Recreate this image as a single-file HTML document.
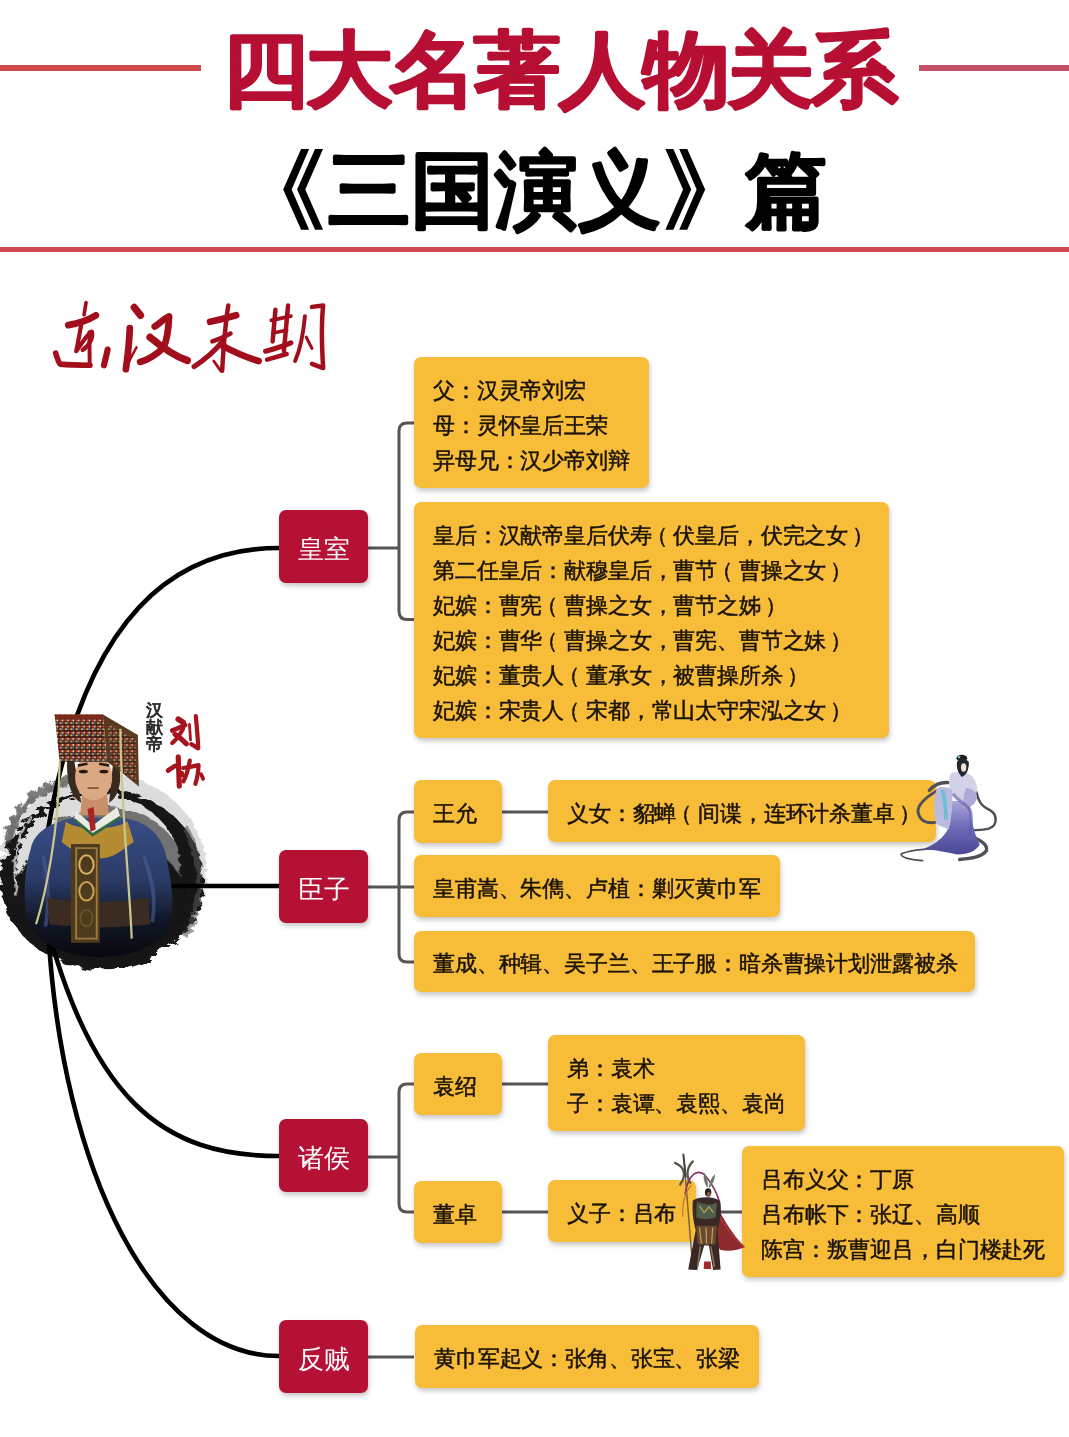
<!DOCTYPE html>
<html><head><meta charset="utf-8">
<style>
html,body{margin:0;padding:0;background:#fff;}
body{width:1069px;height:1437px;position:relative;overflow:hidden;font-family:"Liberation Sans",sans-serif;}
.a{position:absolute;}
.line{position:absolute;}
.tc{position:absolute;width:100px;text-align:center;font-size:82px;line-height:100px;font-weight:700;white-space:nowrap;transform:scaleX(1.06);}
.tr{color:#b70f33;-webkit-text-stroke:2.4px #b70f33;top:20px;}
.tb{color:#000;-webkit-text-stroke:2px #000;top:140px;transform:none;font-size:83px;}
.y{position:absolute;background:#f7bd38;border-radius:7px;box-shadow:1px 3px 5px rgba(0,0,0,.22);color:#1a1208;font-size:22px;letter-spacing:-0.15px;-webkit-text-stroke:0.5px #1a1208;line-height:35px;white-space:nowrap;box-sizing:border-box;padding-left:19px;}
.lp{position:relative;left:-6px}.rp{position:relative;left:4px}
.y1{display:flex;align-items:center;padding-top:4px;}
.r{position:absolute;left:279px;width:89px;height:73px;background:#b51135;border-radius:7px;box-shadow:1px 3px 5px rgba(0,0,0,.22);color:#fff;font-size:26px;display:flex;align-items:center;justify-content:center;white-space:nowrap;padding-top:5px;box-sizing:border-box;}
</style></head>
<body>
<!-- title lines -->
<div class="line" style="left:0;top:65px;width:201px;height:6px;background:#d04a4c"></div>
<div class="line" style="left:919px;top:65px;width:150px;height:6px;background:#c45068"></div>
<div class="line" style="left:0;top:247px;width:1069px;height:5px;background:#cf484b"></div>
<svg class="a" style="left:0;top:0;font-family:'Liberation Sans',sans-serif" width="1069" height="260" viewBox="0 0 1069 260">
<text x="0" y="0" transform="translate(265.0,98) scale(1.06,1)" text-anchor="middle" font-size="82" font-weight="700" fill="#b70f33" stroke="#b70f33" stroke-width="2.4" stroke-linejoin="round">四</text>
<text x="0" y="0" transform="translate(349.2,98) scale(1.06,1)" text-anchor="middle" font-size="82" font-weight="700" fill="#b70f33" stroke="#b70f33" stroke-width="2.4" stroke-linejoin="round">大</text>
<text x="0" y="0" transform="translate(433.4,98) scale(1.06,1)" text-anchor="middle" font-size="82" font-weight="700" fill="#b70f33" stroke="#b70f33" stroke-width="2.4" stroke-linejoin="round">名</text>
<text x="0" y="0" transform="translate(517.6,98) scale(1.06,1)" text-anchor="middle" font-size="82" font-weight="700" fill="#b70f33" stroke="#b70f33" stroke-width="2.4" stroke-linejoin="round">著</text>
<text x="0" y="0" transform="translate(601.8,98) scale(1.06,1)" text-anchor="middle" font-size="82" font-weight="700" fill="#b70f33" stroke="#b70f33" stroke-width="2.4" stroke-linejoin="round">人</text>
<text x="0" y="0" transform="translate(686.0,98) scale(1.06,1)" text-anchor="middle" font-size="82" font-weight="700" fill="#b70f33" stroke="#b70f33" stroke-width="2.4" stroke-linejoin="round">物</text>
<text x="0" y="0" transform="translate(770.2,98) scale(1.06,1)" text-anchor="middle" font-size="82" font-weight="700" fill="#b70f33" stroke="#b70f33" stroke-width="2.4" stroke-linejoin="round">关</text>
<text x="0" y="0" transform="translate(854.4,98) scale(1.06,1)" text-anchor="middle" font-size="82" font-weight="700" fill="#b70f33" stroke="#b70f33" stroke-width="2.4" stroke-linejoin="round">系</text>
<text x="369.0" y="219" text-anchor="middle" font-size="83" font-weight="700" fill="#000" stroke="#000" stroke-width="2" stroke-linejoin="round">三</text>
<text x="452.5" y="219" text-anchor="middle" font-size="83" font-weight="700" fill="#000" stroke="#000" stroke-width="2" stroke-linejoin="round">国</text>
<text x="536.0" y="219" text-anchor="middle" font-size="83" font-weight="700" fill="#000" stroke="#000" stroke-width="2" stroke-linejoin="round">演</text>
<text x="619.5" y="219" text-anchor="middle" font-size="83" font-weight="700" fill="#000" stroke="#000" stroke-width="2" stroke-linejoin="round">义</text>
<text x="786.5" y="219" text-anchor="middle" font-size="83" font-weight="700" fill="#000" stroke="#000" stroke-width="2" stroke-linejoin="round">篇</text>
</svg>
<svg class="a" style="left:0;top:0" width="1069" height="260" viewBox="0 0 1069 260">
 <g id="lq"><polygon points="301.1,149 309.1,149 291.7,189.4 309.1,229.8 301.1,229.8 283.2,189.4"/><polygon points="315,149 323,149 305.3,189.4 323,229.8 315,229.8 297.1,189.4"/></g>
 <use href="#lq" transform="translate(988.35,0) scale(-1,1)"/>
</svg>
<!-- portrait ink blob -->
<svg class="a" style="left:0;top:700px" width="220" height="280" viewBox="0 0 1069 1361">
 <defs>
  <filter id="rough" x="-20%" y="-20%" width="140%" height="140%">
   <feTurbulence type="fractalNoise" baseFrequency="0.012 0.03" numOctaves="3" seed="4"/>
   <feDisplacementMap in="SourceGraphic" scale="60"/>
  </filter>
  <filter id="rough2" x="-20%" y="-20%" width="140%" height="140%">
   <feTurbulence type="fractalNoise" baseFrequency="0.03" numOctaves="2" seed="9"/>
   <feDisplacementMap in="SourceGraphic" scale="40"/>
  </filter>
 </defs>
 <g filter="url(#rough)">
  <ellipse cx="500" cy="835" rx="505" ry="475" fill="#c0c0c0" opacity="0.55"/>
  <ellipse cx="520" cy="880" rx="390" ry="360" fill="#2a2a2a" opacity="0.6"/>
  <path d="M3,872 a492,438 0 1,0 984,0 a492,438 0 1,0 -984,0 Z M78,828 a400,372 0 1,0 800,0 a400,372 0 1,0 -800,0 Z" fill="#141414" fill-rule="evenodd"/>
 </g>
 <g filter="url(#rough2)">
  <ellipse cx="480" cy="960" rx="420" ry="300" fill="#161616"/>
  <path d="M40,700 C60,480 260,380 480,370" fill="none" stroke="#444" stroke-width="40" opacity=".7"/>
  <path d="M150,560 C80,660 55,800 85,960" fill="none" stroke="#dcdcdc" stroke-width="14" opacity=".8"/>
  <path d="M900,620 C980,760 1000,950 900,1150" fill="none" stroke="#555" stroke-width="30" opacity=".6"/>
 </g>
</svg>
<!-- connectors -->
<svg class="a" style="left:0;top:0" width="1069" height="1437" viewBox="0 0 1069 1437">
 <g fill="none" stroke="#000" stroke-width="4.6" stroke-linecap="butt">
  <path d="M48,830 C85,613 176,548 279,548"/>
  <path d="M95,886 L279,886"/>
  <path d="M36.4,884 C86.8,1106 165.8,1156 279,1156"/>
  <path d="M48.3,932 C62,1171 153,1356 279,1356"/>
 </g>
 <g fill="none" stroke="#555" stroke-width="3">
  <path d="M368,548 L399,548"/>
  <path d="M414,423 L407,423 Q399,423 399,431 L399,611 Q399,619.5 407,619.5 L414,619.5"/>
  <path d="M368,887 L414,887"/>
  <path d="M414,812 L407,812 Q399,812 399,820 L399,954 Q399,962 407,962 L414,962"/>
  <path d="M368,1157 L399,1157"/>
  <path d="M414,1084 L407,1084 Q399,1084 399,1092 L399,1204 Q399,1212 407,1212 L414,1212"/>
  <path d="M368,1357 L414,1357"/>
  <path d="M502,812 L549,812"/>
  <path d="M502,1084 L548,1084"/>
  <path d="M502,1212 L548,1212"/>
  <path d="M696,1212 L742,1212"/>
 </g>
</svg>

<!-- portrait figure -->
<svg class="a" style="left:0;top:700px" width="220" height="280" viewBox="0 0 1069 1361">
 <defs>
  <linearGradient id="robe" x1="0" y1="0" x2="0" y2="1"><stop offset="0" stop-color="#3a4e86"/><stop offset=".45" stop-color="#2a3b66"/><stop offset=".72" stop-color="#121828"/><stop offset="1" stop-color="#08090e"/></linearGradient>
  <pattern id="beads" width="26" height="30" patternUnits="userSpaceOnUse">
   <rect width="26" height="30" fill="#3a1a12"/>
   <rect x="3" y="4" width="12" height="10" fill="#c83a2a"/>
   <rect x="15" y="4" width="8" height="10" fill="#e8d8b0"/>
   <rect x="3" y="18" width="10" height="8" fill="#d8b050"/>
   <rect x="14" y="18" width="9" height="8" fill="#5a6a9a"/>
  </pattern>
 </defs>
 <path d="M150,720 C170,630 270,585 370,572 L590,572 C700,585 770,640 800,730 C830,850 850,980 830,1080 C790,1190 660,1245 480,1250 C300,1245 170,1180 130,1060 C110,950 120,820 150,720 Z" fill="url(#robe)"/>
 <path d="M210,760 C240,900 240,1000 220,1100" stroke="#4a5d94" stroke-width="18" fill="none" opacity=".6"/>
 <path d="M700,760 C740,880 760,960 740,1080" stroke="#4a5d94" stroke-width="18" fill="none" opacity=".6"/>
 <path d="M230,960 C400,990 560,990 720,960 L730,1090 C560,1110 400,1110 240,1090 Z" fill="#3a2c22"/>
 <path d="M320,590 C360,630 540,640 620,590 L650,690 C600,720 560,770 480,770 C400,770 340,720 300,690 Z" fill="#b48c34"/>
 <rect x="345" y="700" width="140" height="480" fill="#4e3a1c"/>
 <path d="M370,720 L470,720 L470,1160 L370,1160 Z" fill="none" stroke="#9a7c40" stroke-width="9"/>
 <ellipse cx="420" cy="800" rx="35" ry="45" fill="none" stroke="#d8b060" stroke-width="10"/>
 <ellipse cx="420" cy="930" rx="35" ry="45" fill="none" stroke="#c8a050" stroke-width="10"/>
 <ellipse cx="420" cy="1060" rx="30" ry="40" fill="none" stroke="#6a5630" stroke-width="8"/>
 <path d="M400,450 L520,450 L530,560 L390,560 Z" fill="#c98f68"/>
 <path d="M370,540 L450,610 L570,520 L585,570 L450,655 L360,580 Z" fill="#ecebe2"/>
 <path d="M360,580 L450,655 L585,570" fill="none" stroke="#2f6a44" stroke-width="14"/>
 <path d="M425,530 L455,520 L465,630 L440,640 Z" fill="#a82424"/>
 <path d="M330,250 C315,380 340,470 395,500 L360,290 Z" fill="#3b2a1e"/>
 <path d="M560,250 C600,360 590,460 530,500 L550,300 Z" fill="#3b2a1e"/>
 <ellipse cx="455" cy="375" rx="90" ry="112" fill="#dba884"/>
 <path d="M378,318 L425,310 M482,310 L530,318" stroke="#2a1a10" stroke-width="12"/>
 <ellipse cx="405" cy="348" rx="22" ry="9" fill="#2a1a10"/><ellipse cx="505" cy="348" rx="22" ry="9" fill="#2a1a10"/>
 <path d="M425,428 L480,428" stroke="#8a4a3a" stroke-width="8"/>
 <path d="M500,70 L670,170 L675,420 L600,360 L520,300 Z" fill="#5a3a1e"/>
 <path d="M520,110 L660,190 L660,400 L540,300 Z" fill="url(#beads)" opacity=".75"/>
 <path d="M265,70 L500,70 L520,300 L290,300 Z" fill="url(#beads)"/>
 <path d="M265,70 L500,70 L505,95 L270,95 Z" fill="#7a2a1a"/>
 <path d="M290,300 C285,650 220,950 175,1090" fill="none" stroke="#cbc58e" stroke-width="11"/>
 <path d="M585,140 C590,550 630,900 640,1160" fill="none" stroke="#cbc58e" stroke-width="11"/>
</svg>
<div class="a" style="left:146px;top:702px;width:18px;font-size:17px;line-height:17px;color:#2a2a2a;-webkit-text-stroke:0.9px #2a2a2a;">汉<br>献<br>帝</div>
<svg class="a" style="left:140px;top:695px" width="75" height="100" viewBox="0 0 1069 1425">
 <g fill="none" stroke="#a8141e" stroke-linecap="round" stroke-linejoin="round">
  <path d="M545,345 L615,390" stroke-width="81"/>
  <path d="M460,505 C520,480 590,455 645,430" stroke-width="67"/>
  <path d="M615,480 C570,560 520,630 460,685" stroke-width="60"/>
  <path d="M500,560 C560,600 620,650 660,695" stroke-width="74"/>
  <path d="M705,420 L720,640" stroke-width="40"/>
  <path d="M795,300 C810,450 825,600 830,760 L730,700" stroke-width="60"/>
  <path d="M545,880 C550,1000 555,1150 560,1300" stroke-width="74"/>
  <path d="M400,1075 L500,1010" stroke-width="67"/>
  <path d="M615,1040 C700,1030 770,1015 835,1000 C830,1100 815,1190 790,1265" stroke-width="60"/>
  <path d="M710,935 C690,1050 660,1150 620,1230" stroke-width="60"/>
  <path d="M600,1110 L610,1150 M870,1130 L900,1195" stroke-width="54"/>
 </g>
</svg>
<!-- calligraphy -->
<svg class="a" style="left:40px;top:290px" width="300" height="100" viewBox="0 0 1069 356">
 <g fill="none" stroke="#a30e1c" stroke-linecap="round" stroke-linejoin="round">
  <path d="M164,45 L157,88" stroke-width="13"/>
  <path d="M101,125 C140,118 170,108 199,90" stroke-width="24"/>
  <path d="M148,118 C140,160 134,195 129,218 C150,190 172,150 185,148 C190,165 180,195 152,214" stroke-width="15"/>
  <path d="M56,225 C62,245 66,258 72,264 C110,268 150,268 178,268" stroke-width="20"/>
  <path d="M176,150 L177,268" stroke-width="14"/>
  <path d="M336,62 L358,90" stroke-width="26"/>
  <path d="M241,212 C236,235 231,255 228,268" stroke-width="22"/>
  <path d="M320,136 C318,190 312,240 306,282" stroke-width="24"/>
  <path d="M306,280 C318,250 332,225 344,204" stroke-width="9"/>
  <path d="M409,130 C430,115 445,100 460,94 C458,140 452,180 440,205 C415,230 385,248 357,256" stroke-width="24"/>
  <path d="M392,168 C430,200 480,235 525,251" stroke-width="26"/>
  <path d="M671,55 C662,110 656,168 649,288" stroke-width="16"/>
  <path d="M606,113 C640,106 670,98 699,90" stroke-width="24"/>
  <path d="M614,183 C640,175 660,165 679,155" stroke-width="16"/>
  <path d="M649,185 C620,220 585,250 549,273" stroke-width="18"/>
  <path d="M649,198 C690,220 735,240 779,253" stroke-width="24"/>
  <path d="M619,253 L644,288" stroke-width="10"/>
  <path d="M839,70 L829,183 M884,55 L869,218" stroke-width="16"/>
  <path d="M824,108 L894,93 M829,153 L879,143" stroke-width="13"/>
  <path d="M804,218 C840,208 870,198 894,188" stroke-width="18"/>
  <path d="M809,248 L879,228" stroke-width="16"/>
  <path d="M944,93 C938,160 928,210 909,253" stroke-width="14"/>
  <path d="M969,60 L1009,55 C1002,120 1004,200 1009,278 L969,263" stroke-width="16"/>
  <path d="M949,168 L969,208" stroke-width="11"/>
 </g>
</svg>
<!-- red boxes -->
<div class="r" style="top:510px">皇室</div>
<div class="r" style="top:850px">臣子</div>
<div class="r" style="top:1119px">诸侯</div>
<div class="r" style="top:1320px">反贼</div>

<!-- yellow boxes -->
<div class="y" style="left:414px;top:357px;width:235px;height:131px;padding-top:16px">父：汉灵帝刘宏<br>母：灵怀皇后王荣<br>异母兄：汉少帝刘辩</div>
<div class="y" style="left:414px;top:502px;width:475px;height:236px;padding-top:16px">皇后：汉献帝皇后伏寿<span class="lp">（</span>伏皇后，伏完之女<span class="rp">）</span><br>第二任皇后：献穆皇后，曹节<span class="lp">（</span>曹操之女<span class="rp">）</span><br>妃嫔：曹宪<span class="lp">（</span>曹操之女，曹节之姊<span class="rp">）</span><br>妃嫔：曹华<span class="lp">（</span>曹操之女，曹宪、曹节之妹<span class="rp">）</span><br>妃嫔：董贵人<span class="lp">（</span>董承女，被曹操所杀<span class="rp">）</span><br>妃嫔：宋贵人<span class="lp">（</span>宋都，常山太守宋泓之女<span class="rp">）</span></div>
<div class="y y1" style="left:414px;top:780px;width:88px;height:63px">王允</div>
<div class="y y1" style="left:548px;top:780px;width:388px;height:62px">义女：貂蝉<span class="lp">（</span>间谍，连环计杀董卓<span class="rp">）</span></div>
<div class="y y1" style="left:414px;top:855px;width:366px;height:62px">皇甫嵩、朱儁、卢植：剿灭黄巾军</div>
<div class="y y1" style="left:414px;top:931px;width:561px;height:61px">董成、种辑、吴子兰、王子服：暗杀曹操计划泄露被杀</div>
<div class="y y1" style="left:414px;top:1053px;width:88px;height:62px">袁绍</div>
<div class="y" style="left:548px;top:1035px;width:257px;height:96px;padding-top:16px">弟：袁术<br>子：袁谭、袁熙、袁尚</div>
<div class="y y1" style="left:414px;top:1181px;width:88px;height:62px">董卓</div>
<div class="y y1" style="left:548px;top:1180px;width:148px;height:62px">义子：吕布</div>
<div class="y" style="left:742px;top:1146px;width:322px;height:131px;padding-top:16px">吕布义父：丁原<br>吕布帐下：张辽、高顺<br>陈宫：叛曹迎吕，白门楼赴死</div>
<div class="y y1" style="left:415px;top:1325px;width:344px;height:63px">黄巾军起义：张角、张宝、张梁</div>

<!-- diaochan -->
<svg class="a" style="left:890px;top:745px" width="120" height="125" viewBox="0 0 1069 1114">
 <defs>
  <linearGradient id="dress" x1="0" y1="0" x2="0" y2="1"><stop offset="0" stop-color="#a9a5d8"/><stop offset=".5" stop-color="#6e6ab8"/><stop offset="1" stop-color="#4a4894"/></linearGradient>
 </defs>
 <g fill="none" stroke="#505058" stroke-linecap="round" stroke-linejoin="round">
  <path d="M520,335 C450,330 390,360 350,405" stroke-width="30"/>
  <path d="M450,390 C340,450 240,520 250,600 C265,680 330,700 400,690" stroke-width="26"/>
  <path d="M770,420 C790,510 820,550 890,580 C960,620 960,720 880,745 C820,760 760,760 710,760" stroke-width="22"/>
  <path d="M720,810 C800,850 870,880 860,940 C820,1000 720,1010 620,1020" stroke-width="30"/>
  <path d="M430,925 C300,925 180,935 100,970 C90,1000 170,1020 290,1030" stroke-width="16"/>
 </g>
 <path d="M555,500 L710,500 C720,640 740,770 800,890 C760,950 700,975 600,975 C520,960 420,940 300,925 C420,880 510,800 535,700 Z" fill="url(#dress)"/>
 <path d="M545,250 C600,232 690,236 735,280 C775,330 785,400 770,430 L700,445 L640,520 C600,480 570,440 545,425 C525,365 515,300 545,250 Z" fill="#d3d1ea"/>
 <path d="M415,390 C465,372 530,372 552,400 C562,500 552,620 522,750 C480,740 440,722 410,700 C388,600 388,480 415,390 Z" fill="#bdbadf"/>
 <path d="M468,400 C488,480 498,560 498,665" stroke="#6cc0d4" stroke-width="34" fill="none"/>
 <path d="M680,380 C740,390 775,420 775,470 C765,520 722,560 650,562 C650,480 660,420 680,380 Z" fill="#aeaad8"/>
 <path d="M560,435 C620,520 700,525 720,600 C730,700 720,760 700,800" stroke="#5e5aa8" stroke-width="30" fill="none" opacity=".6"/>
 <ellipse cx="640" cy="118" rx="48" ry="30" fill="#1e2226"/>
 <path d="M598,150 C605,120 685,118 702,152 C705,205 690,262 640,285 C608,255 588,205 598,150 Z" fill="#24282c"/>
 <ellipse cx="656" cy="200" rx="24" ry="38" fill="#f0e2d8"/>
 <circle cx="615" cy="108" r="12" fill="#6cc0d4"/>
</svg>
<!-- lubu -->
<svg class="a" style="left:660px;top:1145px" width="100" height="135" viewBox="0 0 1064 1437">
 <g fill="none" stroke-linecap="round" stroke-linejoin="round">
  <path d="M252,120 L350,1320" stroke="#7a6630" stroke-width="16"/>
  <path d="M160,190 C245,225 295,305 215,420" stroke="#55554a" stroke-width="24"/>
  <path d="M350,175 C290,232 272,322 322,402" stroke="#55554a" stroke-width="24"/>
  <path d="M248,100 L274,335" stroke="#44443c" stroke-width="20"/>
  <path d="M268,520 C300,300 400,262 470,312 C520,372 600,482 632,605" stroke="#8a3468" stroke-width="18"/>
  <path d="M242,760 C232,600 282,482 332,432" stroke="#c8783a" stroke-width="14"/>
 </g>
 <path d="M500,450 C470,400 455,350 470,300 C500,340 515,400 510,450 Z M520,450 C530,390 550,340 585,310 C585,370 560,420 530,455 Z" fill="#6e7a68"/>
 <path d="M565,590 C640,700 720,900 905,1085 C830,1120 720,1140 640,1115 L560,1010 Z" fill="#8c2a2e"/>
 <path d="M610,720 C670,840 770,970 880,1080" stroke="#b04444" stroke-width="14" fill="none" opacity=".6"/>
 <path d="M350,590 C420,540 590,545 640,600 C660,700 640,820 612,905 L645,1325 L565,1330 L520,1070 L470,1070 L395,1330 L300,1325 L380,905 C350,800 340,680 350,590 Z" fill="#3a2826"/>
 <path d="M392,600 C460,642 560,642 606,612 L594,770 C520,798 450,798 386,770 Z" fill="#4f5e48"/>
 <path d="M420,650 L470,720 L520,660 L570,720" stroke="#c0a860" stroke-width="12" fill="none"/>
 <path d="M386,860 L606,860 L590,1060 L400,1060 Z" fill="#6a4a2e"/>
 <path d="M420,880 L440,1050 M490,880 L495,1050 M560,880 L550,1050" stroke="#c8a860" stroke-width="12"/>
 <path d="M430,1080 L400,1300 M540,1080 L580,1300" stroke="#8a7a5a" stroke-width="16"/>
 <path d="M470,1240 L540,1240 L545,1320 L465,1320 Z" fill="#a02a2a"/>
 <ellipse cx="512" cy="505" rx="34" ry="44" fill="#2a201c"/>
 <ellipse cx="518" cy="525" rx="20" ry="28" fill="#8a5a3a"/>
</svg>
</body></html>
